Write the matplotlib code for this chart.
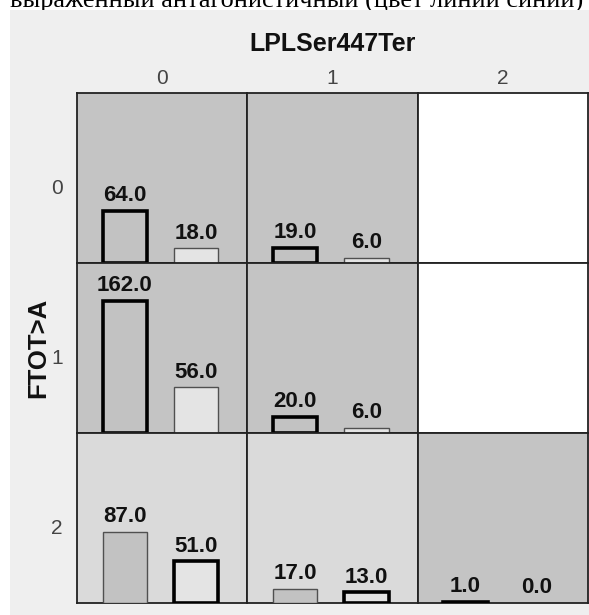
import matplotlib
matplotlib.use("Agg")
import matplotlib.pyplot as plt
from matplotlib.patches import Rectangle

plt.rcParams['font.family'] = ['Liberation Sans', 'DejaVu Sans']

# ---- data ----
col_levels = ['0', '1', '2']          # LPLSer447Ter
row_levels = ['0', '1', '2']          # FTOT>A
series1 = [[64, 19, None],
           [162, 20, None],
           [87, 17, 1]]
series2 = [[18, 6, None],
           [56, 6, None],
           [51, 13, 0]]
# which series bar is outlined thick in each cell (0 -> series1, 1 -> series2)
highlight = [[0, 0, None],
             [0, 0, None],
             [1, 1, 0]]
cell_shade = [['g', 'g', 'w'],
              ['g', 'g', 'w'],
              ['l', 'l', 'g']]
top_caption = "выраженный антагонистичный (цвет линии синий)"
x_title = "LPLSer447Ter"
y_title = "FTOT>A"

# ---- style ----
W, H = 589, 615
fig = plt.figure(figsize=(W / 100, H / 100), dpi=100)
shade_colors = {'g': '#c4c4c4', 'l': '#dadada', 'w': '#ffffff'}
bar_colors = ['#c2c2c2', '#e4e4e4']
bar_x = [0.28, 0.70]
bar_w = 0.26
ymax = 208.6

# background panel
fig.patches.append(Rectangle((10 / W, 0), 1, 1 - 10 / H, transform=fig.transFigure,
                             facecolor='#efefef', edgecolor='none', zorder=-1))

# caption at top, partly cut off as in the reference
cap = fig.text(10 / W, 1 - 8 / H, top_caption, family='Liberation Serif',
               fontsize=20, va='baseline', ha='left', zorder=-2)
r = fig.canvas.get_renderer()
bb = cap.get_window_extent(renderer=r)
cap.set_fontsize(20 * 573 / bb.width)

left, right = 77 / W, 588 / W
top, bottom = 1 - 93 / H, 1 - 603 / H
cw = (right - left) / 3
ch = (top - bottom) / 3

for i in range(3):
    for j in range(3):
        ax = fig.add_axes([left + j * cw, top - (i + 1) * ch, cw, ch])
        ax.set_facecolor(shade_colors[cell_shade[i][j]])
        ax.set_xlim(0, 1)
        ax.set_ylim(0, ymax)
        ax.set_xticks([])
        ax.set_yticks([])
        for s in ax.spines.values():
            s.set_linewidth(1.3)
            s.set_color('#222222')
        vals = [series1[i][j], series2[i][j]]
        if vals[0] is not None:
            for k in range(2):
                thick = highlight[i][j] == k
                if vals[k] > 0:
                    ax.bar(bar_x[k], vals[k], width=bar_w, color=bar_colors[k],
                           edgecolor='black' if thick else '#505050',
                           linewidth=2.6 if thick else 1.0, zorder=3)
                ax.annotate(f"{vals[k]:.1f}", (bar_x[k], vals[k]), xytext=(0, 7),
                            textcoords='offset points', ha='center', va='baseline',
                            fontsize=16, fontweight='bold', color='#111111', zorder=4)
        if i == 0:
            ax.text(0.5, 1 + 15 / 170, col_levels[j], transform=ax.transAxes,
                    ha='center', va='center', fontsize=15, color='#444444')
        if j == 0:
            ax.text(-20 / 171, 0.44, row_levels[i], transform=ax.transAxes,
                    ha='center', va='center', fontsize=15, color='#444444')

fig.text((77 + 588) / 2 / W, 1 - 44 / H, x_title, ha='center', va='center',
         fontsize=18, fontweight='bold', color='#111111')
fig.text(38 / W, 1 - 348 / H, y_title, ha='center', va='center', rotation=90,
         fontsize=18.5, fontweight='bold', color='#111111')

fig.savefig('out.png', dpi=100)
